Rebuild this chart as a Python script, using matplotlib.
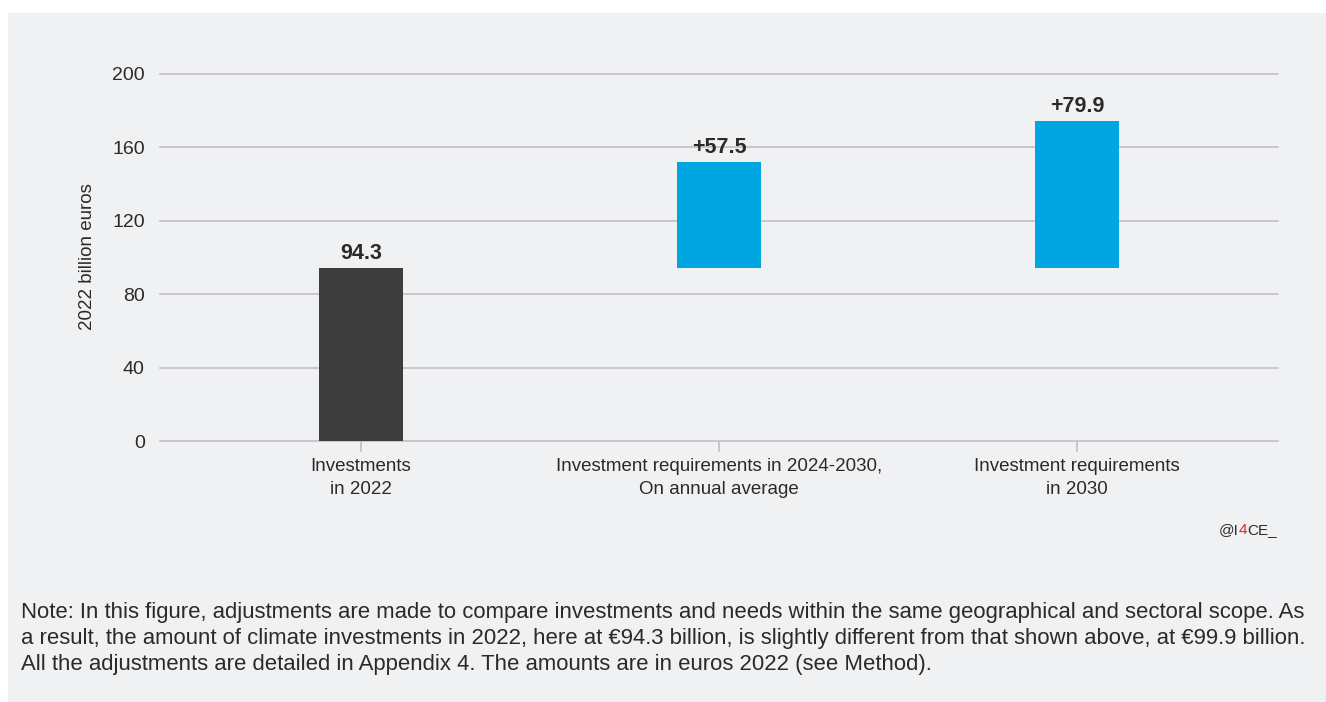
import matplotlib
matplotlib.use("Agg")
import matplotlib.pyplot as plt
from matplotlib.patches import Rectangle
from matplotlib.offsetbox import TextArea, HPacker, AnnotationBbox

plt.rcParams["font.family"] = ["Liberation Sans", "DejaVu Sans"]

# Data
categories = ["Investments\nin 2022",
              "Investment requirements in 2024-2030,\nOn annual average",
              "Investment requirements\nin 2030"]
base_2022 = 94.3
increments = [57.5, 79.9]
value_labels = ["94.3", "+57.5", "+79.9"]
y_ticks = [0, 40, 80, 120, 160, 200]

note = ("Note: In this figure, adjustments are made to compare investments and needs within the same geographical and sectoral scope. As\n"
        "a result, the amount of climate investments in 2022, here at \u20ac94.3 billion, is slightly different from that shown above, at \u20ac99.9 billion.\n"
        "All the adjustments are detailed in Appendix 4. The amounts are in euros 2022 (see Method).")

W, H = 1326, 702
BG = "#f0f1f3"
DARK = "#3d3d3d"
BLUE = "#00a6e2"
GRID = "#bcbcbe"
TXT = "#2a2a2a"

fig = plt.figure(figsize=(W / 100, H / 100), dpi=100)
fig.patch.set_facecolor("white")
fig.patches.append(Rectangle((8 / W, 0), 1 - 8 / W, (H - 13) / H,
                             transform=fig.transFigure, facecolor=BG,
                             edgecolor="none", zorder=-5))

ax = fig.add_axes([160 / W, (H - 441) / H, (1278 - 160) / W, (441 - 74) / H])
ax.set_facecolor("none")

x = [0, 1, 2]
width = 0.235
ax.bar(x[0], base_2022, width=width, color=DARK, zorder=3)
ax.bar(x[1:], increments, bottom=base_2022, width=width, color=BLUE, zorder=3)

tops = [base_2022, base_2022 + increments[0], base_2022 + increments[1]]
for xi, top, lab in zip(x, tops, value_labels):
    ax.annotate(lab, (xi, top), xytext=(0, 6.5), textcoords="offset points",
                ha="center", va="baseline", fontsize=15.5, fontweight="bold",
                color=TXT)

ax.set_xlim(-0.561, 2.561)
ax.set_ylim(0, 200)
ax.set_yticks(y_ticks)
ax.set_yticklabels([str(v) for v in y_ticks])
ax.set_xticks(x)
ax.set_xticklabels(categories, linespacing=1.5)
for s in ax.spines.values():
    s.set_visible(False)
ax.grid(axis="y", color=GRID, linewidth=1.1, zorder=1)
ax.set_axisbelow(True)
for gl in ax.get_ygridlines():
    gl.set_clip_on(False)
ax.tick_params(axis="y", length=0, pad=11, labelsize=14, labelcolor=TXT)
ax.tick_params(axis="x", length=8, width=1.1, color=GRID, pad=4,
               labelsize=13.5, labelcolor=TXT)

fig.text(88 / W, (H - 257) / H, "2022 billion euros", rotation=90,
         ha="center", va="center", fontsize=13.5, color=TXT)

# Source tag
parts = [TextArea("@I", textprops=dict(color=TXT, fontsize=11)),
         TextArea("4", textprops=dict(color="#e8202a", fontsize=11)),
         TextArea("CE_", textprops=dict(color=TXT, fontsize=11))]
pack = HPacker(children=parts, sep=0, pad=0, align="baseline")
ab = AnnotationBbox(pack, (1277 / W, (H - 530) / H), xycoords="figure fraction",
                    box_alignment=(1, 0.5), frameon=False, pad=0)
fig.add_artist(ab)

fig.text(21 / W, (H - 602) / H, note, ha="left", va="top", fontsize=15.9,
         color=TXT, linespacing=1.32)

fig.savefig("out.png", dpi=100, facecolor=fig.get_facecolor())
